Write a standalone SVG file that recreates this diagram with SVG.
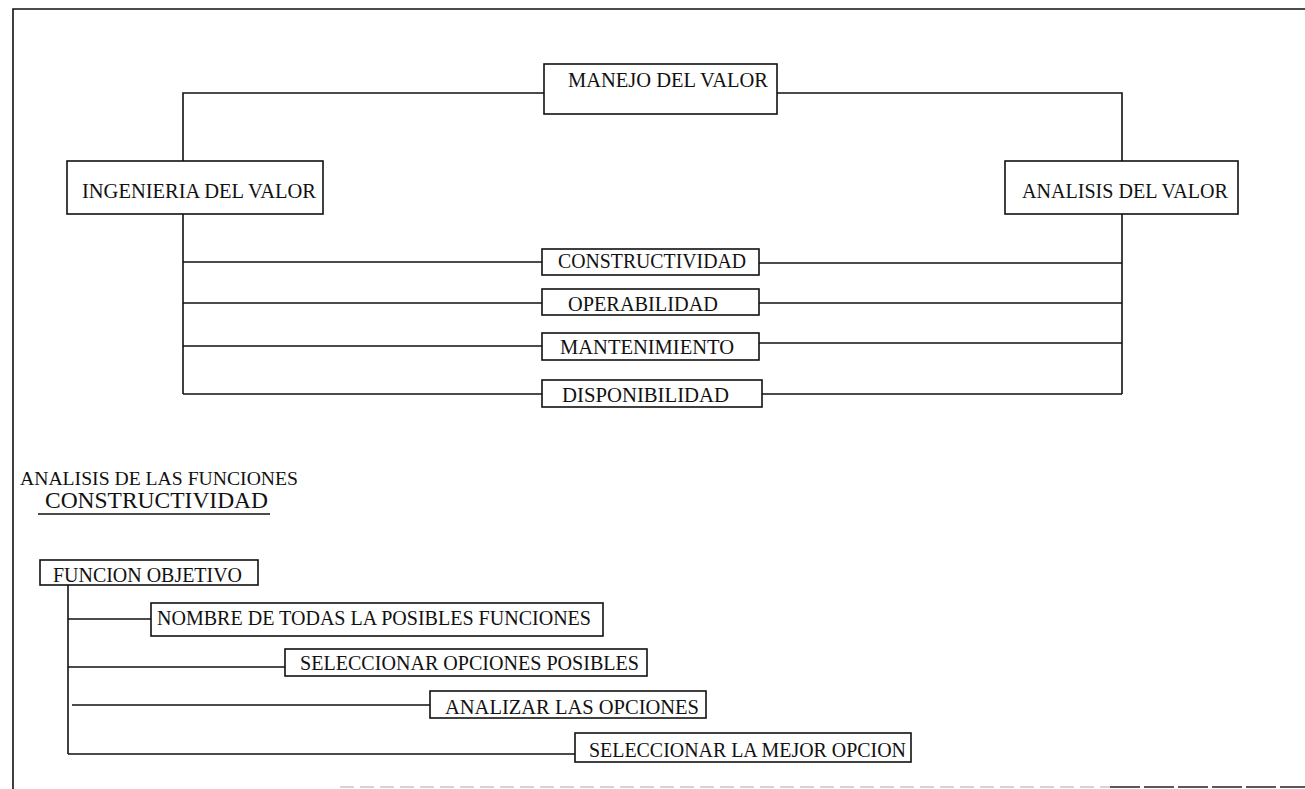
<svg xmlns="http://www.w3.org/2000/svg" width="1305" height="789" viewBox="0 0 1305 789">
<style>
.box{fill:#fff;stroke:#111;stroke-width:1.6}
.ln{stroke:#111;stroke-width:1.6;fill:none}
.t{font-family:"Liberation Serif","Times New Roman",serif;fill:#111;font-size:20px}
</style>
<rect width="1305" height="789" fill="#fff"/>
<g id="frame">
<path class="ln" d="M13,789 V9 H1305" stroke-width="2"/>
<path d="M340,787 H1110" stroke="#aaa" stroke-width="1.2" stroke-dasharray="14,6"/>
<path d="M1110,787 H1305" stroke="#222" stroke-width="1.6" stroke-dasharray="30,4"/>
</g>
<g id="connectors">
<path class="ln" d="M544,93 H183 V161"/>
<path class="ln" d="M777,93 H1122 V161"/>
<path class="ln" d="M183,214 V394"/>
<path class="ln" d="M183,262 H542 M183,303 H542 M183,346 H542 M183,394 H542"/>
<path class="ln" d="M1122,214 V394"/>
<path class="ln" d="M759,263 H1122 M759,303 H1122 M759,343 H1122 M762,394 H1122"/>
<path class="ln" d="M68,585 V754"/>
<path class="ln" d="M68,619 H151 M68,667 H285 M72,705 H430 M68,754 H575"/>
</g>
<g id="n-manejo"><rect class="box" x="544" y="64" width="233" height="50"/><text class="t" x="568" y="87" textLength="200" lengthAdjust="spacingAndGlyphs">MANEJO DEL VALOR</text></g>
<g id="n-ingenieria"><rect class="box" x="67" y="161" width="256" height="53"/><text class="t" x="82" y="198" textLength="234" lengthAdjust="spacingAndGlyphs">INGENIERIA DEL VALOR</text></g>
<g id="n-analisis"><rect class="box" x="1005" y="161" width="233" height="53"/><text class="t" x="1022" y="198" textLength="206" lengthAdjust="spacingAndGlyphs">ANALISIS DEL VALOR</text></g>
<g id="n-constructividad"><rect class="box" x="542" y="249" width="217" height="26"/><text class="t" x="558" y="268" textLength="188" lengthAdjust="spacingAndGlyphs">CONSTRUCTIVIDAD</text></g>
<g id="n-operabilidad"><rect class="box" x="542" y="289" width="217" height="26"/><text class="t" x="568" y="311" textLength="150" lengthAdjust="spacingAndGlyphs">OPERABILIDAD</text></g>
<g id="n-mantenimiento"><rect class="box" x="542" y="333" width="217" height="27"/><text class="t" x="560" y="354" textLength="174" lengthAdjust="spacingAndGlyphs">MANTENIMIENTO</text></g>
<g id="n-disponibilidad"><rect class="box" x="542" y="380" width="220" height="27"/><text class="t" x="562" y="402" textLength="167" lengthAdjust="spacingAndGlyphs">DISPONIBILIDAD</text></g>
<g id="titles">
<text class="t" x="20" y="485" style="font-size:18px" textLength="278" lengthAdjust="spacingAndGlyphs">ANALISIS DE LAS FUNCIONES</text>
<text class="t" x="45" y="508" style="font-size:23px" textLength="223" lengthAdjust="spacingAndGlyphs">CONSTRUCTIVIDAD</text>
<path class="ln" d="M38,514 H270" stroke-width="1.4"/>
</g>
<g id="n-funcion"><rect class="box" x="40" y="560" width="218" height="25"/><text class="t" x="53" y="582" textLength="189" lengthAdjust="spacingAndGlyphs">FUNCION OBJETIVO</text></g>
<g id="n-nombre"><rect class="box" x="151" y="603" width="452" height="33"/><text class="t" x="157" y="625" textLength="434" lengthAdjust="spacingAndGlyphs">NOMBRE DE TODAS LA POSIBLES FUNCIONES</text></g>
<g id="n-selecc"><rect class="box" x="285" y="649" width="362" height="27"/><text class="t" x="300" y="670" textLength="339" lengthAdjust="spacingAndGlyphs">SELECCIONAR OPCIONES POSIBLES</text></g>
<g id="n-analizar"><rect class="box" x="430" y="691" width="276" height="27"/><text class="t" x="445" y="714" textLength="254" lengthAdjust="spacingAndGlyphs">ANALIZAR  LAS OPCIONES</text></g>
<g id="n-mejor"><rect class="box" x="575" y="733" width="336" height="29"/><text class="t" x="589" y="757" textLength="317" lengthAdjust="spacingAndGlyphs">SELECCIONAR LA MEJOR OPCION</text></g>
</svg>
